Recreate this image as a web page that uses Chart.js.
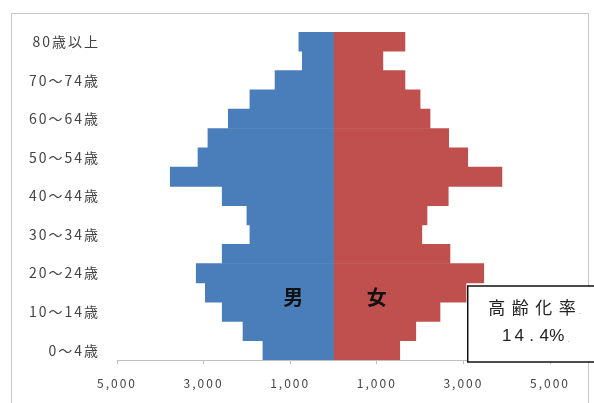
<!DOCTYPE html>
<html>
<head>
<meta charset="utf-8">
<script src="https://cdn.jsdelivr.net/npm/chart.js@4/dist/chart.umd.min.js"></script>
<style>
  html, body { margin: 0; padding: 0; background: #fff; }
  #wrap { width: 594px; height: 403px; position: relative; }
</style>
</head>
<body>
<div id="wrap"><canvas id="pyramid" width="594" height="403"></canvas></div>
<script>
    "use strict";

    // age groups, youngest first
    var ageGroups = ['0～4歳', '5～9歳', '10～14歳', '15～19歳', '20～24歳', '25～29歳',
        '30～34歳', '35～39歳', '40～44歳', '45～49歳', '50～54歳', '55～59歳',
        '60～64歳', '65～69歳', '70～74歳', '75～79歳', '80歳以上'];

    // population by sex
    var male = [1630, 2090, 2570, 2960, 3170, 2570, 1930, 2000, 2570, 3770,
        3130, 2900, 2430, 1930, 1350, 720, 800];
    var female = [1530, 1900, 2460, 3060, 3470, 2690, 2040, 2160, 2650, 3890,
        3100, 2660, 2230, 2000, 1650, 1140, 1650];

    var xTicks = [-5000, -3000, -1000, 1000, 3000, 5000];
    var rateLines = ['高齢化率', '14.4%'];

    var fontFamily = "'Noto Sans CJK JP', 'Noto Sans', sans-serif";

    // spaced-out lettering like the original
    var spacing = {
        id: 'spacing',
        beforeLayout: function (chart) { chart.ctx.letterSpacing = '2px'; },
        beforeDraw: function (chart) { chart.ctx.letterSpacing = '2px'; }
    };

    // frame, sex labels and the text box
    var extras = {
        id: 'extras',
        afterDraw: function (chart) {
            var ctx = chart.ctx;
            var area = chart.chartArea;
            var x = chart.scales.x;
            ctx.save();
            ctx.letterSpacing = '0px';

            // outer frame
            ctx.strokeStyle = '#c8c8c8';
            ctx.lineWidth = 1;
            ctx.strokeRect(11.5, 13.5, 577, 400);

            // 男 / 女
            ctx.font = "bold 20px 'Noto Sans CJK JP', sans-serif";
            ctx.fillStyle = '#111';
            ctx.textAlign = 'center';
            ctx.textBaseline = 'middle';
            ctx.fillText('男', x.getPixelForValue(-930), area.bottom - 63);
            ctx.fillText('女', x.getPixelForValue(1000), area.bottom - 63);

            // 高齢化率 box
            var bx = x.getPixelForValue(3100), by = area.bottom - 74;
            ctx.fillStyle = '#fff';
            ctx.fillRect(bx, by, 140, 76);
            ctx.strokeStyle = '#111';
            ctx.lineWidth = 1.5;
            ctx.strokeRect(bx, by, 140, 76);

            ctx.fillStyle = '#222';
            ctx.font = "17px 'Noto Sans CJK JP', sans-serif";
            rateLines[0].split('').forEach(function (c, i) {
                ctx.fillText(c, bx + 29 + i * 23.5, by + 22);
            });
            ctx.font = "17px 'Liberation Sans', sans-serif";
            rateLines[1].split('').forEach(function (c, i) {
                ctx.fillText(c, bx + 39 + i * 12.5, by + 50);
            });
            ctx.fillStyle = '#aaa';
            ctx.font = "9px sans-serif";
            ctx.fillText('.', bx + 112, by + 26);
            ctx.fillText('.', bx + 101, by + 54);
            ctx.restore();
        }
    };

    var ctx1 = document.getElementById('pyramid').getContext('2d');
    var myChart1 = new Chart(ctx1, {
        type: 'bar',
        data: {
            labels: ageGroups,
            datasets: [{
                label: '男',
                data: male.map(function (v) { return -v; }),
                backgroundColor: '#4a7ebb',
                barPercentage: 1,
                categoryPercentage: 1
            },
            {
                label: '女',
                data: female,
                backgroundColor: '#c0504d',
                barPercentage: 1,
                categoryPercentage: 1
            }]
        },
        options: {
            indexAxis: 'y',
            responsive: false,
            animation: false,
            layout: { padding: { left: 0, right: 44, top: 32, bottom: 0 } },
            plugins: {
                legend: { display: false },
                tooltip: { enabled: false }
            },
            scales: {
                x: {
                    stacked: true,
                    min: -5000,
                    max: 5000,
                    afterBuildTicks: function (scale) {
                        scale.ticks = xTicks.map(function (v) { return { value: v }; });
                    },
                    afterFit: function (scale) { scale.height = 43; },
                    grid: { display: true, drawOnChartArea: false, drawTicks: true, tickLength: 4, color: '#bfbfbf' },
                    border: { display: true, color: '#bfbfbf' },
                    ticks: {
                        padding: 12,
                        color: '#444',
                        font: { family: fontFamily, size: 12 },
                        maxRotation: 0,
                        callback: function (v) { return Math.abs(v).toLocaleString('en-US'); }
                    }
                },
                y: {
                    stacked: true,
                    reverse: true,
                    afterFit: function (scale) { scale.width = 117; },
                    grid: { display: false },
                    border: { display: false },
                    ticks: {
                        padding: 9,
                        color: '#444',
                        font: { family: fontFamily, size: 14 },
                        autoSkip: false,
                        callback: function (v, i) { return i % 2 === 0 ? ageGroups[i] : ''; }
                    }
                }
            }
        },
        plugins: [spacing, extras]
    });
</script>
</body>
</html>
